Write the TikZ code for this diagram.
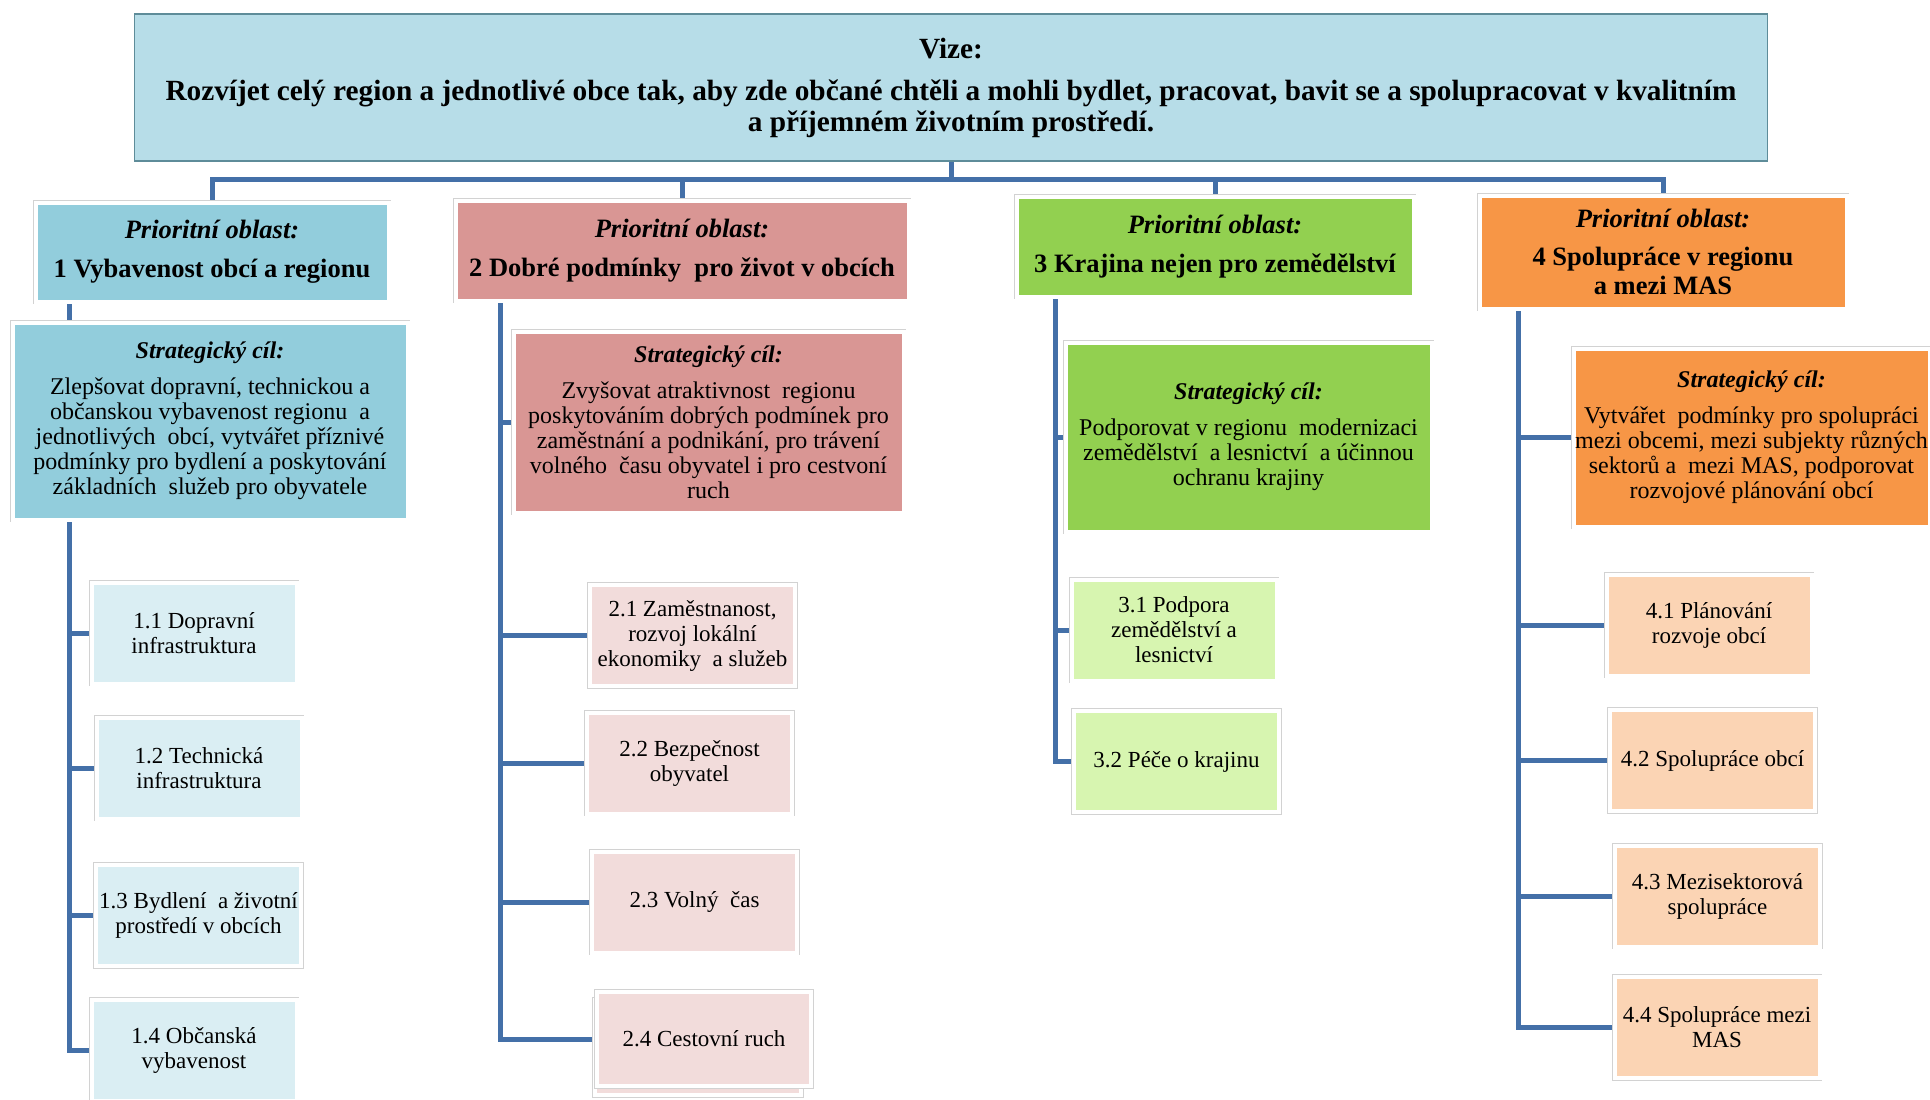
\documentclass[tikz,border=0pt]{standalone}
\usepackage{fontspec}
\setmainfont{Liberation Serif}
\usetikzlibrary{positioning, backgrounds}

\definecolor{vizefill}{HTML}{B7DDE8}
\definecolor{vizeline}{HTML}{5E8C99}
\definecolor{linkblue}{HTML}{4470A8}
\definecolor{blueA}{HTML}{92CDDC}
\definecolor{blueB}{HTML}{DAEEF3}
\definecolor{redA}{HTML}{D99694}
\definecolor{redB}{HTML}{F2DCDB}
\definecolor{greenA}{HTML}{92D050}
\definecolor{greenB}{HTML}{D7F5B0}
\definecolor{orangeA}{HTML}{F79646}
\definecolor{orangeB}{HTML}{FBD4B4}

\begin{document}
\begin{tikzpicture}[x=1pt, y=-1pt,
    frame/.style={rectangle, draw=white, line width=4pt, preaction={draw=gray!35, line width=5.5pt}, align=center, inner sep=0pt, outer sep=0pt},
    prio/.style={frame, font=\fontsize{26.5}{29}\selectfont\bfseries},
    goal/.style={frame, font=\fontsize{24}{25}\selectfont},
    item/.style={frame, minimum width=205pt, minimum height=101pt, font=\fontsize{23}{25}\selectfont},
    link/.style={draw=linkblue, line width=5pt}]

    \useasboundingbox (0,0) rectangle (1930,1100);

    % Vision on top
    \node[rectangle, fill=vizefill, draw=vizeline, line width=1.3pt, minimum width=1633pt, minimum height=147pt, align=center,
          font=\fontsize{29.3}{31}\selectfont\bfseries] (vize) at (951,87.5)
        {Vize:\\[11pt]
         Rozvíjet celý region a jednotlivé obce tak, aby zde občané chtěli a mohli bydlet, pracovat, bavit se a spolupracovat v kvalitním\\
         a příjemném životním prostředí.};

    % Priority areas
    \node[prio, fill=blueA, minimum width=353pt, minimum height=99pt] (p1) at (212,252)
        {\textit{Prioritní oblast:}\\[10pt] 1 Vybavenost obcí a regionu};
    \node[prio, fill=redA, minimum width=453pt, minimum height=100pt] (p2) at (682,250.5)
        {\textit{Prioritní oblast:}\\[10pt] 2 Dobré podmínky\ \ pro život v obcích};
    \node[prio, fill=greenA, minimum width=397pt, minimum height=100pt] (p3) at (1215,246.5)
        {\textit{Prioritní oblast:}\\[10pt] 3 Krajina nejen pro zemědělství};
    \node[prio, fill=orangeA, minimum width=367pt, minimum height=113pt] (p4) at (1663,252)
        {\textit{Prioritní oblast:}\\[9pt] 4 Spolupráce v regionu\\ a mezi MAS};

    % Strategic goals
    \node[goal, fill=blueA, minimum width=395pt, minimum height=197pt] (g1) at (210,421)
        {\textbf{\textit{Strategický cíl:}}\\[11pt]
         Zlepšovat dopravní, technickou a\\ občanskou vybavenost regionu\ \ a\\
         jednotlivých\ \ obcí, vytvářet příznivé\\ podmínky pro bydlení a poskytování\\
         základních\ \ služeb pro obyvatele};
    \node[goal, fill=redA, minimum width=390pt, minimum height=181pt] (g2) at (708.5,422)
        {\textbf{\textit{Strategický cíl:}}\\[11pt]
         Zvyšovat atraktivnost\ \ regionu\\ poskytováním dobrých podmínek pro\\
         zaměstnání a podnikání, pro trávení\\ volného\ \ času obyvatel i pro cestvoní\\ ruch};
    \node[goal, fill=greenA, minimum width=366pt, minimum height=189pt] (g3) at (1248.5,437)
        {\textbf{\textit{Strategický cíl:}}\\[11pt]
         Podporovat v regionu\ \ modernizaci\\ zemědělství\ \ a lesnictví\ \ a účinnou\\ ochranu krajiny};
    \node[goal, fill=orangeA, minimum width=356pt, minimum height=178pt] (g4) at (1751.5,437.5)
        {\textbf{\textit{Strategický cíl:}}\\[11pt]
         Vytvářet\ \ podmínky pro spolupráci\\ mezi obcemi, mezi subjekty různých\\
         sektorů a\ \ mezi MAS, podporovat\\ rozvojové plánování obcí};

    % Measures
    \node[item, fill=blueB] (i11) at (194,633)    {1.1 Dopravní\\ infrastruktura};
    \node[item, fill=blueB] (i12) at (199,768)    {1.2 Technická\\ infrastruktura};
    \node[item, fill=blueB] (i13) at (198.5,915.5) {1.3 Bydlení\ \ a životní\\ prostředí v obcích};
    \node[item, fill=blueB] (i14) at (194,1050)   {1.4 Občanská\\ vybavenost};

    \draw[draw=white, line width=4pt, preaction={draw=gray!35, line width=5.5pt}, fill=redB] (595,1000) rectangle (801,1095);
    \node[item, fill=redB] (i21) at (692.5,635.5) {2.1 Zaměstnanost,\\ rozvoj lokální\\ ekonomiky\ \ a služeb};
    \node[item, fill=redB] (i22) at (689.5,763)   {2.2 Bezpečnost\\ obyvatel};
    \node[item, fill=redB] (i23) at (694.5,902)   {2.3 Volný\ \ čas};
    \node[item, fill=redB, minimum width=214pt, minimum height=94pt] (i24) at (704,1039) {2.4 Cestovní ruch};

    \node[item, fill=greenB] (i31) at (1174,630)    {3.1 Podpora\\ zemědělství a\\ lesnictví};
    \node[item, fill=greenB] (i32) at (1176.5,761.5) {3.2 Péče o krajinu};

    \node[item, fill=orangeB] (i41) at (1709,625)    {4.1 Plánování\\ rozvoje obcí};
    \node[item, fill=orangeB] (i42) at (1712.5,760.5) {4.2 Spolupráce obcí};
    \node[item, fill=orangeB] (i43) at (1717.5,896)  {4.3 Mezisektorová\\ spolupráce};
    \node[item, fill=orangeB] (i44) at (1717,1027.5) {4.4 Spolupráce mezi\\ MAS};

    % Trunk positions and the bar under the vision
    \coordinate (bar) at (0,179);
    \coordinate (t1) at (69,0);
    \coordinate (t2) at (500,0);
    \coordinate (t3) at (1055,0);
    \coordinate (t4) at (1518,0);

    \begin{scope}[on background layer]
        \draw[link] (vize.south) -- (vize.south |- bar);
        \draw[link] (p1.north) -- (p1.north |- bar) -- (p4.north |- bar) -- (p4.north);
        \draw[link] (p2.north |- bar) -- (p2.north);
        \draw[link] (p3.north |- bar) -- (p3.north);

        \draw[link] (p1.south -| t1) -- (t1 |- i14.west) -- (i14.west);
        \draw[link] (p2.south -| t2) -- (t2 |- i24.west) -- (i24.west);
        \draw[link] (p3.south -| t3) -- (t3 |- i32.west) -- (i32.west);
        \draw[link] (p4.south -| t4) -- (t4 |- i44.west) -- (i44.west);

        \foreach \n in {i11,i12,i13} \draw[link] (t1 |- \n.west) -- (\n.west);
        \foreach \n in {g2,i21,i22,i23} \draw[link] (t2 |- \n.west) -- (\n.west);
        \foreach \n in {g3,i31} \draw[link] (t3 |- \n.west) -- (\n.west);
        \foreach \n in {g4,i41,i42,i43} \draw[link] (t4 |- \n.west) -- (\n.west);
    \end{scope}

\end{tikzpicture}
\end{document}
